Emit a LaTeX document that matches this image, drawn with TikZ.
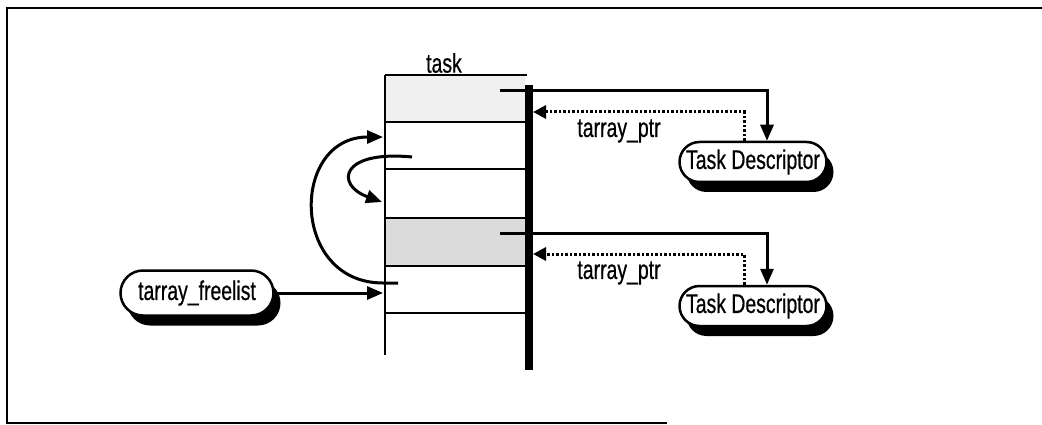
\documentclass[tikz,border=0pt]{standalone}
\usepackage{fontspec}
\setmainfont{Liberation Sans}[FakeStretch=0.72,FakeBold=0.6]
\usetikzlibrary{arrows.meta,shapes.misc,shadows}
\begin{document}
\begin{tikzpicture}[x=1pt,y=-1pt,
  lbl/.style={font=\fontsize{27}{30}\selectfont, inner sep=0pt},
  pill/.style={rounded rectangle, draw, line width=2.5pt, fill=white,
    font=\fontsize{27}{30}\selectfont, minimum height=40pt, inner xsep=3pt,
    drop shadow={shadow xshift=7pt, shadow yshift=-10pt, fill=black, opacity=1}},
  arr/.style={-{Triangle[length=16pt,width=13pt]}, line width=3pt},
  darr/.style={-{Triangle[length=13pt,width=13pt]}, line width=3pt, dash pattern=on 2.5pt off 2pt},
  rowline/.style={line width=2pt},
  frame/.style={line width=2.5pt}]
\useasboundingbox (0,0) rectangle (1042,425);
% outer frame
\draw[frame] (1042,8) -- (7,8) -- (7,423) -- (667,423);
% task array
\fill[gray!12] (385,75) rectangle (525,122);
\fill[gray!28] (385,218) rectangle (525,266);
\foreach \y in {75,122,169,218,266,313} \draw[rowline] (385,\y) -- (527,\y);
\draw[rowline] (385,75) -- (385,355);
\draw[line width=8pt] (529,85) -- (529,370);
\node[lbl] (task) at (444,63) {task};
% nodes
\node[pill, minimum width=153pt] (td1) at (753,162) {Task Descriptor};
\node[pill, minimum width=153pt] (td2) at (753,306) {Task Descriptor};
\node[pill, minimum width=159pt, minimum height=45pt] (fl) at (197,293) {tarray\_freelist};
\node[lbl] (ptr1) at (619,131) {tarray\_ptr};
\node[lbl] (ptr2) at (619,273) {tarray\_ptr};
% coordinates
\coordinate (p1) at (500,91);
\coordinate (p2) at (500,233);
\coordinate (b1) at (533,112);
\coordinate (b2) at (533,254);
\coordinate (f1) at (383,293);
\coordinate (s1) at (398,283);
\coordinate (e1) at (383,137);
\coordinate (s2) at (412,157);
\coordinate (e2) at (382,202);
% connectors
\draw[arr] (p1) -| ([xshift=14pt]td1.north);
\draw[arr] (p2) -| ([xshift=14pt]td2.north);
\draw[darr] ([xshift=-9pt]td1.north) |- (b1);
\draw[darr] ([xshift=-9pt]td2.north) |- (b2);
\draw[arr] (fl.east) -- (f1);
\draw[arr] (s1) -- (383,283) .. controls (290,283) and (290,137) .. (e1);
\draw[arr] (s2) .. controls (340,150) and (335,185) .. (e2);
\end{tikzpicture}
\end{document}
